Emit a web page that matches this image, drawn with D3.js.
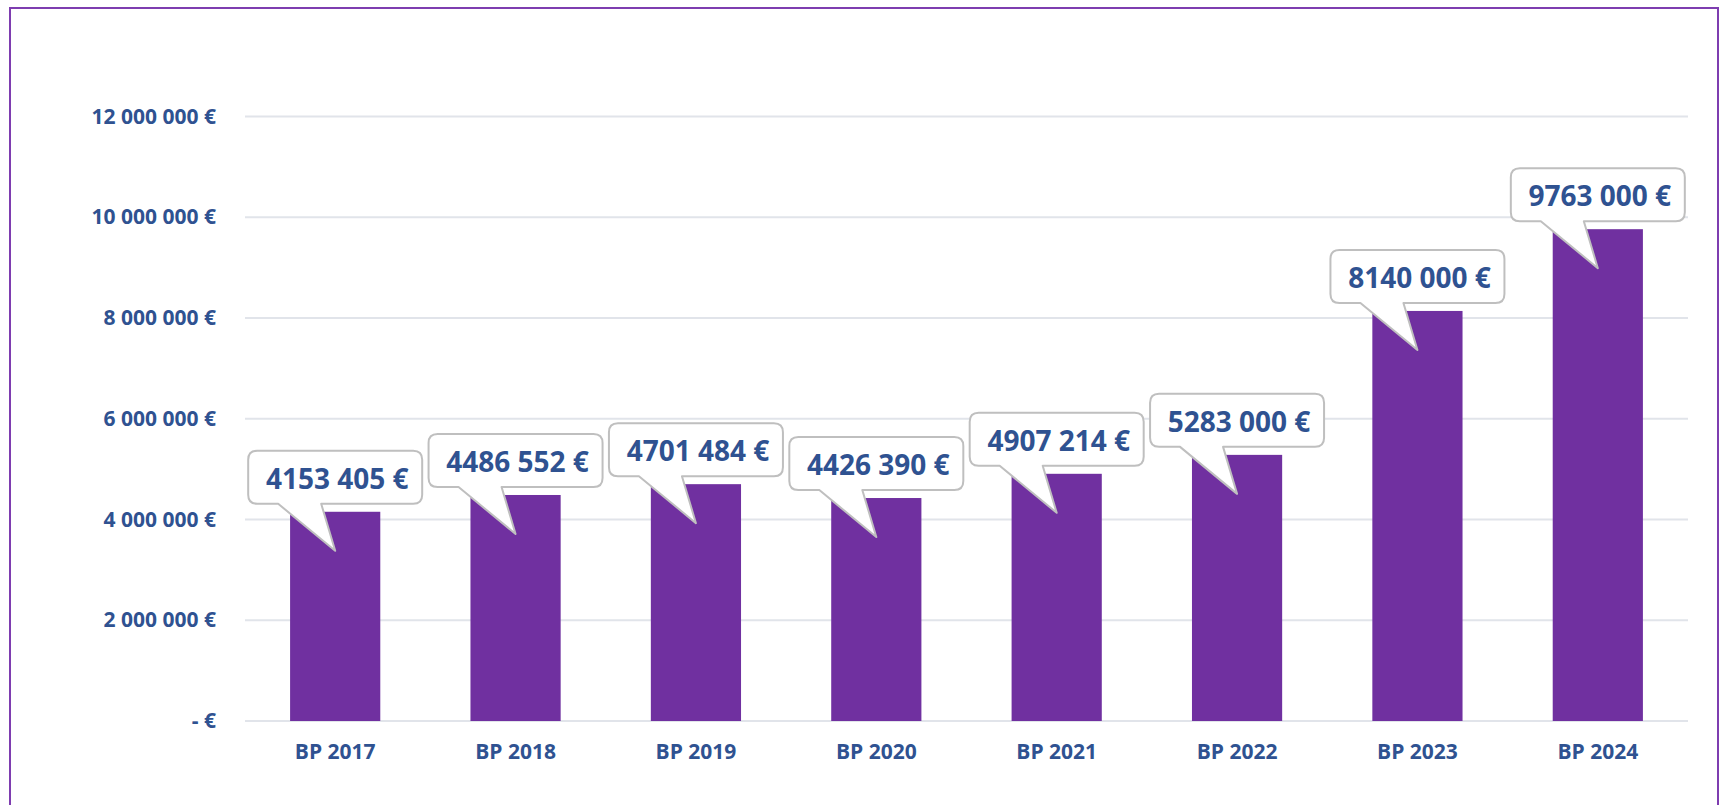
<!DOCTYPE html>
<html>
<head>
<meta charset="utf-8">
<script src="https://cdn.jsdelivr.net/npm/d3@7"></script>
<style>
  html, body { margin: 0; padding: 0; background: #fff; }
  svg { display: block; }
  text { font-family: "Open Sans", "Noto Sans", sans-serif; font-weight: 700; }
</style>
</head>
<body>
<svg id="chart" width="1725" height="805"></svg>
<script>
const categories = ["BP 2017", "BP 2018", "BP 2019", "BP 2020", "BP 2021", "BP 2022", "BP 2023", "BP 2024"];
const values = [4153405, 4486552, 4701484, 4426390, 4907214, 5283000, 8140000, 9763000];
const yTicks = [0, 2000000, 4000000, 6000000, 8000000, 10000000, 12000000];

const W = 1725, H = 805;
const textColor = "#2F5291";
const barColor = "#7030A0";
const gridColor = "#E1E4EA";

const svg = d3.select("#chart");

// outer border
svg.append("rect")
  .attr("x", 10).attr("y", 8).attr("width", 1708).attr("height", 830)
  .attr("fill", "none").attr("stroke", "#7E3DB0").attr("stroke-width", 2);

const plotLeft = 245, plotRight = 1688, plotTop = 116.5, plotBottom = 721;

const x = d3.scaleBand().domain(categories).range([plotLeft, plotRight])
  .paddingInner(0.5).paddingOuter(0.25);
const y = d3.scaleLinear().domain([0, 12000000]).range([plotBottom, plotTop]);

// gridlines
svg.append("g").selectAll("line").data(yTicks).join("line")
  .attr("x1", plotLeft).attr("x2", plotRight)
  .attr("y1", d => y(d)).attr("y2", d => y(d))
  .attr("stroke", gridColor).attr("stroke-width", 2);

// y axis
const fmtTick = v => v === 0 ? "- €" : d3.format(",")(v).replace(/,/g, " ") + " €";
const yAxis = svg.append("g").attr("transform", `translate(${plotLeft},0)`)
  .call(d3.axisLeft(y).tickValues(yTicks).tickSize(0).tickPadding(29).tickFormat(fmtTick));
yAxis.select(".domain").remove();
yAxis.selectAll("text")
  .attr("fill", textColor).style("font-size", "21px")
  .style("font-family", "'Open Sans', sans-serif").style("font-weight", 700);

// bars
svg.append("g").selectAll("rect").data(values).join("rect")
  .attr("x", (d, i) => x(categories[i]))
  .attr("width", x.bandwidth())
  .attr("y", d => y(d))
  .attr("height", d => y(0) - y(d))
  .attr("fill", barColor);

// x axis labels
const xAxis = svg.append("g").attr("transform", `translate(0,${plotBottom})`)
  .call(d3.axisBottom(x).tickSize(0).tickPadding(23));
xAxis.select(".domain").remove();
xAxis.selectAll("text")
  .attr("fill", textColor).style("font-size", "21px")
  .style("font-family", "'Open Sans', sans-serif").style("font-weight", 700);

// callouts
const fmtLabel = v => {
  const th = Math.floor(v / 1000), rest = v % 1000;
  return th + " " + String(rest).padStart(3, "0") + " €";
};

function calloutPath(cx, top) {
  const l = cx - 87, r = cx + 87, t = top - 61, b = top - 8, rr = 9;
  const p1 = cx - 57, p2 = cx - 14, tipX = cx, tipY = top + 39;
  return `M${l + rr},${t} H${r - rr} Q${r},${t} ${r},${t + rr} V${b - rr} Q${r},${b} ${r - rr},${b}` +
    ` H${p2} L${tipX},${tipY} L${p1},${b} H${l + rr} Q${l},${b} ${l},${b - rr} V${t + rr} Q${l},${t} ${l + rr},${t} Z`;
}

const callouts = svg.append("g").selectAll("g").data(values).join("g");
callouts.append("path")
  .attr("d", (d, i) => calloutPath(x(categories[i]) + x.bandwidth() / 2, y(d)))
  .attr("fill", "#fff").attr("stroke", "#BFBFBF").attr("stroke-width", 2)
  .attr("stroke-linejoin", "round");
callouts.append("text")
  .attr("x", (d, i) => x(categories[i]) + x.bandwidth() / 2 + 2)
  .attr("y", d => y(d) - 23)
  .attr("text-anchor", "middle")
  .attr("fill", textColor)
  .style("font-size", "28px")
  .text(d => fmtLabel(d));
</script>
</body>
</html>
